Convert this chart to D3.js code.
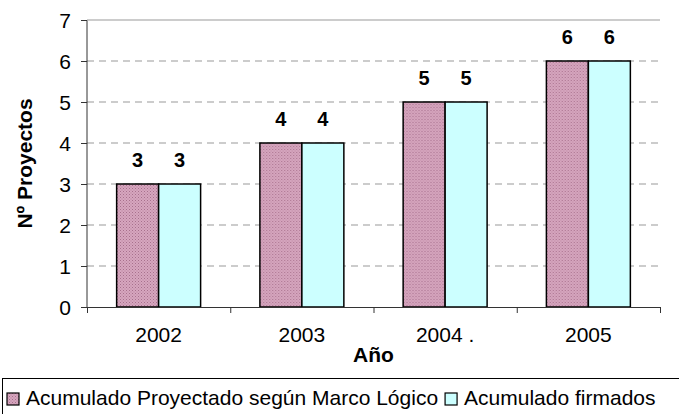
<!DOCTYPE html>
<html>
<head>
<meta charset="utf-8">
<script src="https://cdn.jsdelivr.net/npm/d3@7"></script>
<style>
  body { margin: 0; background: #fff; }
  svg { font-family: Arial, "Liberation Sans", sans-serif; }
</style>
</head>
<body>
<div id="chart"></div>
<script>
const years = ["2002", "2003", "2004 .", "2005"];
const seriesNames = ["Acumulado Proyectado según Marco Lógico", "Acumulado firmados"];
const proyectado = [3, 4, 5, 6];
const firmados = [3, 4, 5, 6];
const yTicks = [0, 1, 2, 3, 4, 5, 6, 7];

const W = 679, H = 414;
const margin = { top: 20, right: 19, bottom: 107, left: 87 };
const width = W - margin.left - margin.right;
const height = H - margin.top - margin.bottom;

const svg = d3.select("#chart").append("svg")
    .attr("width", W)
    .attr("height", H);

// hatched pink fill like the old excel pattern
const defs = svg.append("defs");
const pat = defs.append("pattern")
    .attr("id", "pinkPat")
    .attr("width", 3).attr("height", 3)
    .attr("patternUnits", "userSpaceOnUse");
pat.append("rect").attr("width", 3).attr("height", 3).attr("fill", "#d6a6bf");
pat.append("rect").attr("width", 1).attr("height", 1).attr("fill", "#a8708c");
pat.append("rect").attr("x", 1.5).attr("y", 1.5).attr("width", 1).attr("height", 1).attr("fill", "#b88099");

const colors = ["url(#pinkPat)", "#ccffff"];

const g = svg.append("g")
    .attr("transform", `translate(${margin.left},${margin.top})`);

const x = d3.scaleBand()
    .domain(years)
    .range([0, width])
    .padding(0);

const x1 = d3.scaleBand()
    .domain(seriesNames)
    .range([0, x.bandwidth()])
    .paddingInner(0)
    .paddingOuter(0.706);

const y = d3.scaleLinear()
    .domain([0, 7])
    .range([height, 0]);

// grid
g.append("g")
    .selectAll("line")
    .data(yTicks.filter(d => d > 0))
    .join("line")
    .attr("x1", 0).attr("x2", width)
    .attr("y1", d => y(d)).attr("y2", d => y(d))
    .attr("stroke", "#999")
    .attr("stroke-width", 1)
    .attr("stroke-dasharray", d => d === 7 ? null : "7,5");

const data = years.map((yr, i) => ({ year: yr, values: [proyectado[i], firmados[i]] }));

const groups = g.append("g")
    .selectAll("g")
    .data(data)
    .join("g")
    .attr("transform", d => `translate(${x(d.year)},0)`);

groups.selectAll("rect")
    .data(d => d.values.map((v, j) => ({ key: seriesNames[j], value: v, j })))
    .join("rect")
    .attr("x", d => x1(d.key))
    .attr("y", d => y(d.value))
    .attr("width", x1.bandwidth())
    .attr("height", d => y(0) - y(d.value))
    .attr("fill", d => colors[d.j])
    .attr("stroke", "#000")
    .attr("stroke-width", 1.5);

groups.selectAll("text")
    .data(d => d.values.map((v, j) => ({ key: seriesNames[j], value: v })))
    .join("text")
    .attr("x", d => x1(d.key) + x1.bandwidth() / 2)
    .attr("y", d => y(d.value) - 17.5)
    .attr("text-anchor", "middle")
    .attr("font-size", 20)
    .attr("font-weight", "bold")
    .text(d => d.value);

// axes
const yAxis = d3.axisLeft(y).tickValues(yTicks).tickFormat(d3.format("d")).tickSize(6).tickPadding(10);
const yg = g.append("g").call(yAxis);
yg.selectAll("text").attr("font-size", 21).attr("fill", "#000").attr("dy", "0.36em");
yg.selectAll("line, path").attr("stroke", "#333");
yg.select(".domain").attr("d", `M0,${height + 0.5}V0.5`);

const xg = g.append("g")
    .attr("transform", `translate(0,${height})`)
    .call(d3.axisBottom(x).tickSize(0).tickPadding(20));
xg.selectAll("text").attr("font-size", 21).attr("fill", "#000");
xg.select(".domain").attr("stroke", "#333");

const xEdges = d3.scaleLinear().domain([0, years.length]).range([0, width]);
g.append("g")
    .attr("transform", `translate(0,${height})`)
    .call(d3.axisBottom(xEdges).ticks(years.length).tickFormat("").tickSize(6))
    .call(s => s.select(".domain").remove())
    .selectAll("line").attr("stroke", "#333");

// axis titles
svg.append("text")
    .attr("transform", `translate(32,${margin.top + height / 2}) rotate(-90)`)
    .attr("text-anchor", "middle")
    .attr("font-size", 21)
    .attr("font-weight", "bold")
    .text("Nº Proyectos");

svg.append("text")
    .attr("x", margin.left + width / 2)
    .attr("y", 362)
    .attr("text-anchor", "middle")
    .attr("font-size", 21)
    .attr("font-weight", "bold")
    .text("Año");

// legend
const leg = svg.append("g");
leg.append("rect")
    .attr("x", 2.5).attr("y", 378.5)
    .attr("width", 720).attr("height", 60)
    .attr("fill", "#fff")
    .attr("stroke", "#000");

let lx = 7;
seriesNames.forEach((name, i) => {
    leg.append("rect")
        .attr("x", lx).attr("y", 393)
        .attr("width", 12).attr("height", 12)
        .attr("fill", colors[i])
        .attr("stroke", "#000")
        .attr("stroke-width", 1.2);
    const t = leg.append("text")
        .attr("x", lx + 19)
        .attr("y", 404.5)
        .attr("font-size", 21)
        .text(name);
    lx = lx + 19 + t.node().getComputedTextLength() + 7;
});
</script>
</body>
</html>
